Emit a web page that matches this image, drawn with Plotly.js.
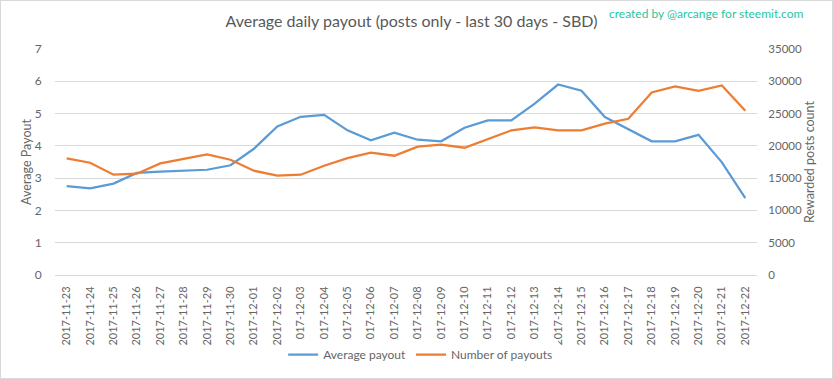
<!DOCTYPE html>
<html>
<head>
<meta charset="utf-8">
<script src="https://cdn.plot.ly/plotly-3.0.1.min.js"></script>
<style>
html,body{margin:0;padding:0;background:#fff;}
#chart{width:833px;height:379px;box-sizing:border-box;border:1px solid #d9d9d9;}
</style>
</head>
<body>
<div id="chart"></div>
<script>
const dates = ["2017-11-23","2017-11-24","2017-11-25","2017-11-26","2017-11-27","2017-11-28","2017-11-29","2017-11-30",
"2017-12-01","2017-12-02","2017-12-03","2017-12-04","2017-12-05","2017-12-06","2017-12-07","2017-12-08","2017-12-09",
"2017-12-10","2017-12-11","2017-12-12","2017-12-13","2017-12-14","2017-12-15","2017-12-16","2017-12-17","2017-12-18",
"2017-12-19","2017-12-20","2017-12-21","2017-12-22"];
const averagePayout = [2.75,2.68,2.83,3.16,3.20,3.24,3.26,3.40,3.91,4.60,4.90,4.96,4.48,4.17,4.41,4.19,4.14,4.56,4.79,4.79,5.31,5.90,5.71,4.89,4.52,4.14,4.14,4.34,3.49,2.38];
const numberOfPayouts = [18060,17390,15530,15690,17290,17960,18680,17850,16150,15380,15530,16920,18110,18940,18470,19870,20180,19710,21050,22390,22860,22390,22390,23430,24200,28280,29210,28530,29360,25440];

const font = "Lato, 'Open Sans', sans-serif";
const grey = '#666666';
const traces = [
  {x: dates, y: averagePayout, type: 'scatter', mode: 'lines', name: 'Average payout',
   line: {color: '#5B9BD5', width: 2.25}, yaxis: 'y'},
  {x: dates, y: numberOfPayouts, type: 'scatter', mode: 'lines', name: 'Number of payouts',
   line: {color: '#ED7D31', width: 2.25}, yaxis: 'y2'}
];
const layout = {
  width: 831, height: 377,
  margin: {l: 54, r: 75, t: 48, b: 103},
  paper_bgcolor: '#fff', plot_bgcolor: '#fff',
  font: {family: font, color: grey, size: 12},
  title: {text: 'Average daily payout (posts only - last 30 days - SBD)', x: 0.494, xanchor: 'center', y: 0.945, yanchor: 'middle',
          automargin: false, font: {family: font, size: 16, color: '#595959'}},
  showlegend: true,
  legend: {orientation: 'h', xref: 'container', yref: 'container', x: 0.505, xanchor: 'center', y: 0.062, yanchor: 'middle',
           font: {size: 12, color: grey}},
  xaxis: {type: 'category', range: [-0.5, dates.length - 0.5], tickangle: -90, tickfont: {size: 11, color: grey},
          showgrid: false, automargin: false,
          showline: true, linecolor: '#d9d9d9', linewidth: 1, ticks: 'outside', ticklen: 6, tickcolor: 'rgba(0,0,0,0)',
          zeroline: false, fixedrange: true},
  yaxis: {range: [0, 7], dtick: 1, gridcolor: '#d9d9d9', gridwidth: 1, zeroline: false, showline: false, automargin: false,
          tickfont: {size: 12, color: grey}, ticks: 'outside', ticklen: 10, tickcolor: 'rgba(0,0,0,0)',
          title: {text: 'Average Payout', font: {size: 12.5, color: grey}, standoff: 0}},
  yaxis2: {range: [0, 35000], dtick: 5000, tickformat: 'd', overlaying: 'y', side: 'right', showgrid: false, zeroline: false,
           automargin: false, tickfont: {size: 11.5, color: grey}, ticks: 'outside', ticklen: 8, tickcolor: 'rgba(0,0,0,0)',
           title: {text: 'Rewarded posts count', font: {size: 12.5, color: grey}, standoff: 2}},
  annotations: [{text: 'created by @arcange for steemit.com', xref: 'paper', yref: 'paper', x: 1.07, xanchor: 'right',
                 y: 1.155, yanchor: 'middle', showarrow: false, font: {family: font, size: 12, color: '#1FC7A0'}}]
};
Plotly.newPlot('chart', traces, layout, {displayModeBar: false, staticPlot: true});
</script>
</body>
</html>
